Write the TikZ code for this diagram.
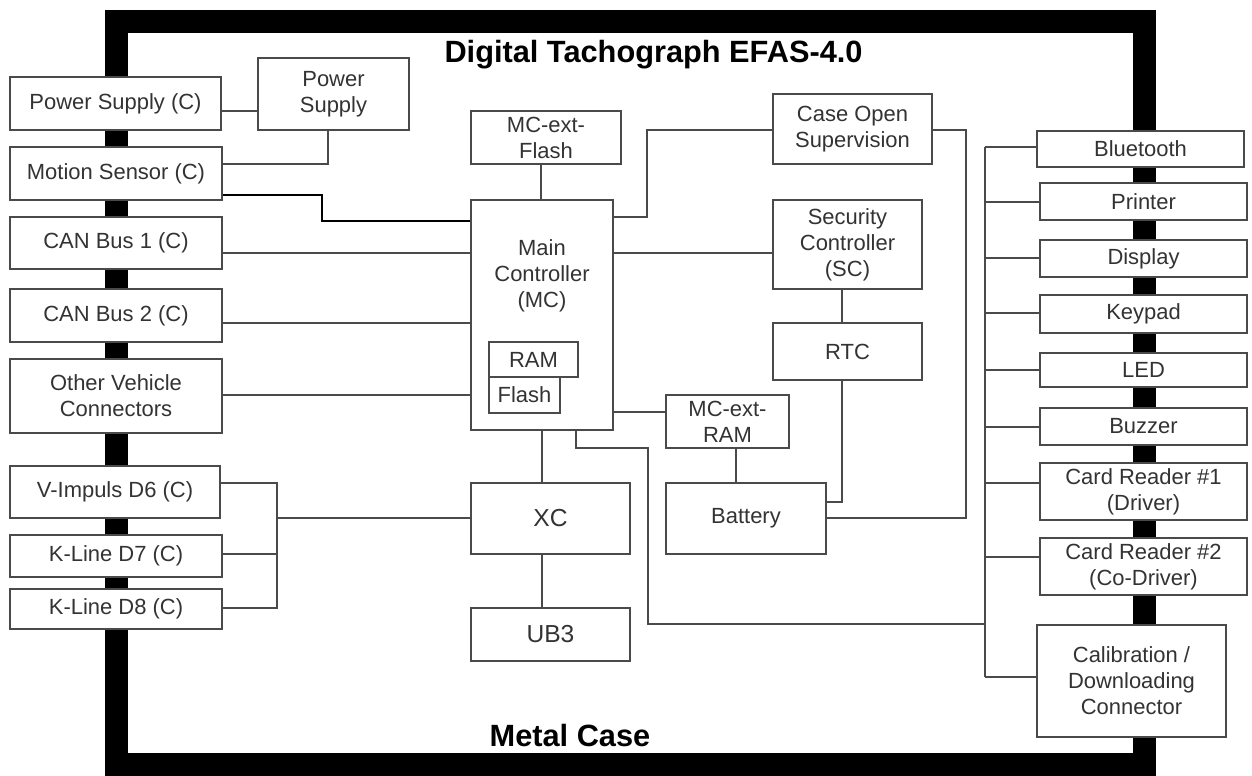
\documentclass[tikz,border=0pt]{standalone}
\usepackage{fontspec}
\setmainfont{Liberation Sans}
\definecolor{boxline}{HTML}{4A4A4A}
\definecolor{boxtext}{HTML}{333333}

\begin{document}
\begin{tikzpicture}[x=0.02cm,y=-0.02cm,
  lbl/.style={text=boxtext,align=center,font=\fontsize{12.5}{14.8}\selectfont},
  blk/.style n args={2}{lbl,draw=boxline,fill=white,line width=0.85pt,
    minimum width=#1*0.02cm,minimum height=#2*0.02cm,inner sep=0pt},
  big/.style={font=\fontsize{14}{16}\selectfont},
  wire/.style={draw=boxline,line width=0.85pt},
  heading/.style={anchor=base,text=black,font=\bfseries\fontsize{17.5}{20}\selectfont}]
  \useasboundingbox (0,0) rectangle (1252,776);
  \draw[line width=0.46cm,black] (116.5,22) rectangle (1144,764.5);
  \node[heading] (title) at (653.5,63) {Digital Tachograph EFAS-4.0};
  \node[heading] (metal) at (570,747) {Metal Case};

  \node[blk={211}{53}] (psC) at (115.5,103.5) {Power Supply (C)};
  \node[blk={212}{53}] (msC) at (116,173.5) {Motion Sensor (C)};
  \node[blk={212}{52}] (can1) at (116,243) {CAN Bus 1 (C)};
  \node[blk={212}{53}] (can2) at (116,315.5) {CAN Bus 2 (C)};
  \node[blk={212}{74}] (ovc) at (116,396) {Other Vehicle\\Connectors};
  \node[blk={210}{52}] (vimp) at (115,492) {V-Impuls D6 (C)};
  \node[blk={212}{42}] (kl7) at (116,556) {K-Line D7 (C)};
  \node[blk={212}{40}] (kl8) at (116,609) {K-Line D8 (C)};

  \node[blk={151}{72}] (ps) at (333.5,94) {Power\\Supply};
  \node[blk={150}{53}] (flashx) at (546,137.5) {MC-ext-\\Flash};
  \node[blk={142}{230}] (mc) at (542,315) {};
  \node[lbl] (mctxt) at (542,276) {Main\\Controller\\(MC)};
  \node[blk={89}{35}] (ram) at (533.5,359.5) {RAM};
  \node[blk={71}{36}] (flash) at (524.5,395) {Flash};
  \node[blk={159}{71},big] (xc) at (550.5,518.5) {XC};
  \node[blk={159}{53},big] (ub3) at (550.5,634.5) {UB3};
  \node[blk={159}{70}] (cos) at (852.5,129) {Case Open\\Supervision};
  \node[blk={149}{89}] (sc) at (847.5,244.5) {Security\\Controller\\(SC)};
  \node[blk={149}{57}] (rtc) at (847.5,351.5) {RTC};
  \node[blk={123}{53}] (ramx) at (727.5,421.5) {MC-ext-\\RAM};
  \node[blk={160}{71}] (bat) at (746,518.5) {Battery};

  \node[blk={207}{36}] (bt) at (1140.5,149) {Bluetooth};
  \node[blk={207}{37}] (prn) at (1143.5,201.5) {Printer};
  \node[blk={207}{37}] (disp) at (1143.5,258.5) {Display};
  \node[blk={207}{38}] (key) at (1143.5,314) {Keypad};
  \node[blk={207}{34}] (led) at (1143.5,370) {LED};
  \node[blk={207}{37}] (buz) at (1143.5,426.5) {Buzzer};
  \node[blk={207}{57}] (cr1) at (1143.5,491.5) {Card Reader \#1\\(Driver)};
  \node[blk={207}{57}] (cr2) at (1143.5,566.5) {Card Reader \#2\\(Co-Driver)};
  \node[blk={189}{112}] (cal) at (1131.5,681) {Calibration /\\Downloading\\Connector};

  \coordinate (bus) at (985,147);
  \coordinate (busend) at (985,677);
  \draw[wire] (bus) -- (busend);
  \foreach \n/\y in {bt/147,prn/202,disp/258,key/313,led/370,buz/427,cr1/483,cr2/557,cal/677}
    \draw[wire] (985,\y) -- (\n.west |- 0,\y);

  \draw[wire] (psC.east |- 0,111) -- (ps.west |- 0,111);
  \draw[wire] (ps.south -| 328,0) |- (msC.east |- 0,164);
  \draw[line width=1.4pt,black] (msC.east |- 0,195) -| (322,221) -- (mc.west |- 0,221);
  \draw[wire] (can1.east |- 0,253) -- (mc.west |- 0,253);
  \draw[wire] (can2.east |- 0,323) -- (mc.west |- 0,323);
  \draw[wire] (ovc.east |- 0,395) -- (mc.west |- 0,395);
  \draw[wire] (flashx.south -| 541,0) -- (mc.north -| 541,0);
  \draw[wire] (mc.east |- 0,217) -| (647,130) -- (cos.west |- 0,130);
  \draw[wire] (mc.east |- 0,253) -- (sc.west |- 0,253);
  \draw[wire] (sc.south -| 842,0) -- (rtc.north -| 842,0);
  \draw[wire] (rtc.south -| 842,0) |- (bat.east |- 0,502);
  \draw[wire] (cos.east |- 0,130) -| (966,518) -- (bat.east |- 0,518);
  \draw[wire] (mc.east |- 0,412) -- (ramx.west |- 0,412);
  \draw[wire] (ramx.south -| 736,0) -- (bat.north -| 736,0);
  \draw[wire] (mc.south -| 576,0) |- (648,448) |- (bus |- 0,624);
  \draw[wire] (mc.south -| 542,0) -- (xc.north -| 542,0);
  \draw[wire] (xc.south -| 542,0) -- (ub3.north -| 542,0);
  \draw[wire] (vimp.east |- 0,483) -| (277,608) -- (kl8.east |- 0,608);
  \draw[wire] (kl7.east |- 0,554) -- (277,554);
  \draw[wire] (277,518) -- (xc.west |- 0,518);
\end{tikzpicture}
\end{document}
